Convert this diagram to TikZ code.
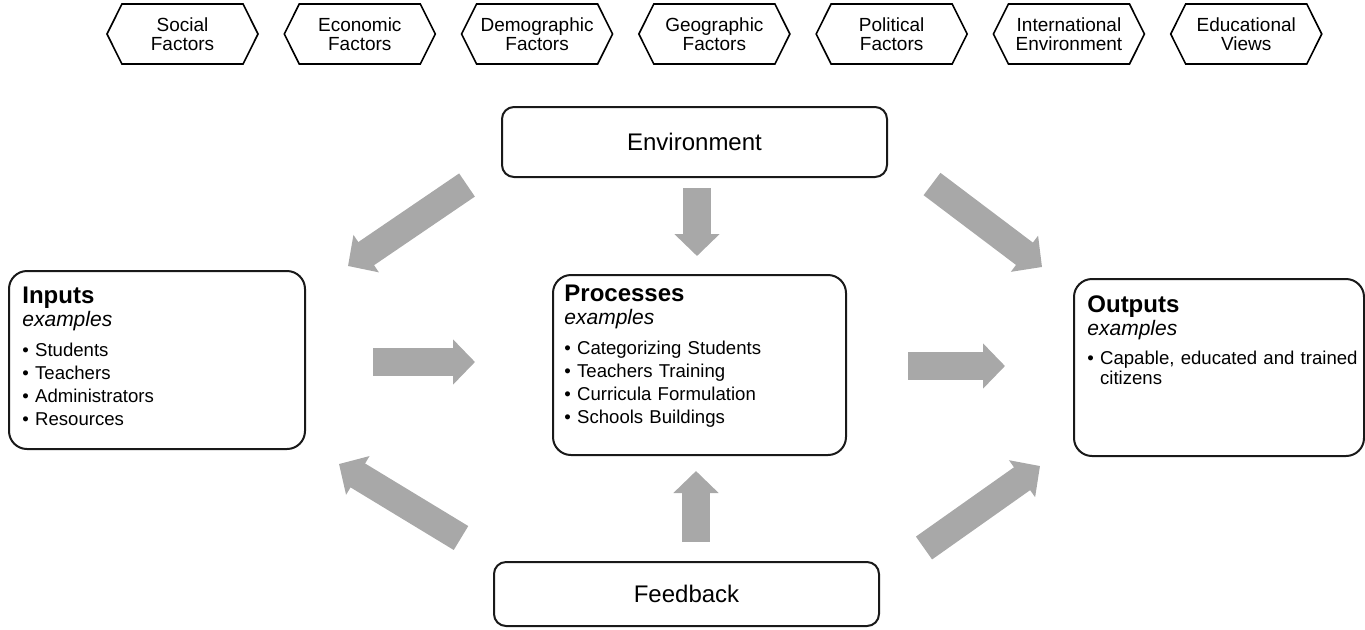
\documentclass[tikz,border=0pt]{standalone}
\usepackage{fontspec}
\setmainfont{Liberation Sans}
\usepackage{tikz}
\usetikzlibrary{positioning,shapes.symbols,arrows.meta}

\definecolor{arrowgray}{RGB}{168,168,168}

\begin{document}
\begin{tikzpicture}[x=0.5pt, y=-0.5pt,
        factor/.style={signal, signal to=west and east, signal pointer angle=127, draw, line width=0.8pt,
            minimum width=75.5pt, minimum height=30pt, inner sep=1pt, align=center,
            font=\fontsize{9.5}{9.5}\selectfont},
        mainbox/.style={draw=black!90, line width=1pt, rounded corners=9pt, anchor=north west},
        smallbox/.style={draw=black!90, line width=1pt, rounded corners=6pt, minimum width=192.5pt,
            font=\fontsize{12}{14}\selectfont},
        boxtext/.style={inner sep=0pt, align=left, font=\fontsize{9.3}{11.5}\selectfont},
        fatarrow/.style={draw=arrowgray, line width=14pt, -{Triangle[length=11pt,width=22pt]}}
    ]
        \useasboundingbox (0,0) rectangle (1365,629);

        % factors along the top
        \node[factor] (social) at (182.5,34) {Social\\Factors};
        \node[factor, right=12.25pt of social] (economic) {Economic\\Factors};
        \node[factor, right=12.25pt of economic] (demographic) {Demographic\\Factors};
        \node[factor, right=12.25pt of demographic] (geographic) {Geographic\\Factors};
        \node[factor, right=12.25pt of geographic] (political) {Political\\Factors};
        \node[factor, right=12.25pt of political] (international) {International\\Environment};
        \node[factor, right=12.25pt of international] (educational) {Educational\\Views};

        \node[smallbox, minimum height=35pt] (environment) at (694.5,142) {Environment};
        \node[smallbox, minimum height=32pt] (feedback) at (686.5,594) {Feedback};

        \node[mainbox, minimum width=148pt, minimum height=89pt] (inputs) at (8,270) {};
        \node[boxtext, text width=130pt, below right=8.5pt and 7pt of inputs.north west] (inputstext) {
            {\fontsize{12}{12}\selectfont\bfseries Inputs}\\
            {\fontsize{10.5}{11}\selectfont\itshape examples}\\[3.5pt]
            \textbullet\ Students\\
            \textbullet\ Teachers\\
            \textbullet\ Administrators\\
            \textbullet\ Resources};

        \node[mainbox, minimum width=146.5pt, minimum height=90pt] (processes) at (552,274) {};
        \node[boxtext, text width=130pt, below right=5.5pt and 6pt of processes.north west] (processestext) {
            {\fontsize{12}{12}\selectfont\bfseries Processes}\\
            {\fontsize{10.5}{11}\selectfont\itshape examples}\\[3.5pt]
            \textbullet\ Categorizing Students\\
            \textbullet\ Teachers Training\\
            \textbullet\ Curricula Formulation\\
            \textbullet\ Schools Buildings};

        \node[mainbox, minimum width=145pt, minimum height=88.5pt] (outputs) at (1073,278) {};
        \node[boxtext, text width=150pt, below right=8.5pt and 7pt of outputs.north west] (outputstext) {
            {\fontsize{12}{12}\selectfont\bfseries Outputs}\\
            {\fontsize{10.5}{11}\selectfont\itshape examples}\\[3pt]
            \textbullet\ Capable, educated and trained\\[-1.5pt]
            \phantom{\textbullet\ }citizens};

        % ends of the grey arrows
        \coordinate (envinputstail) at (467,185);
        \coordinate (envinputstip) at (348,266);
        \coordinate (envprocessestail) at (697,188);
        \coordinate (envprocessestip) at (697,256);
        \coordinate (envoutputstail) at (932,184);
        \coordinate (envoutputstip) at (1042,267);
        \coordinate (inputsprocessestail) at (373,362);
        \coordinate (inputsprocessestip) at (475,362);
        \coordinate (processesoutputstail) at (908,366);
        \coordinate (processesoutputstip) at (1005,366);
        \coordinate (fbinputstail) at (461,538);
        \coordinate (fbinputstip) at (339,464);
        \coordinate (fbprocessestail) at (696,542);
        \coordinate (fbprocessestip) at (696,471);
        \coordinate (fboutputstail) at (924,548);
        \coordinate (fboutputstip) at (1040,466);

        \draw[fatarrow] (envinputstail) -- (envinputstip);
        \draw[fatarrow] (envprocessestail) -- (envprocessestip);
        \draw[fatarrow] (envoutputstail) -- (envoutputstip);
        \draw[fatarrow] (inputsprocessestail) -- (inputsprocessestip);
        \draw[fatarrow] (processesoutputstail) -- (processesoutputstip);
        \draw[fatarrow] (fbinputstail) -- (fbinputstip);
        \draw[fatarrow] (fbprocessestail) -- (fbprocessestip);
        \draw[fatarrow] (fboutputstail) -- (fboutputstip);
\end{tikzpicture}
\end{document}
